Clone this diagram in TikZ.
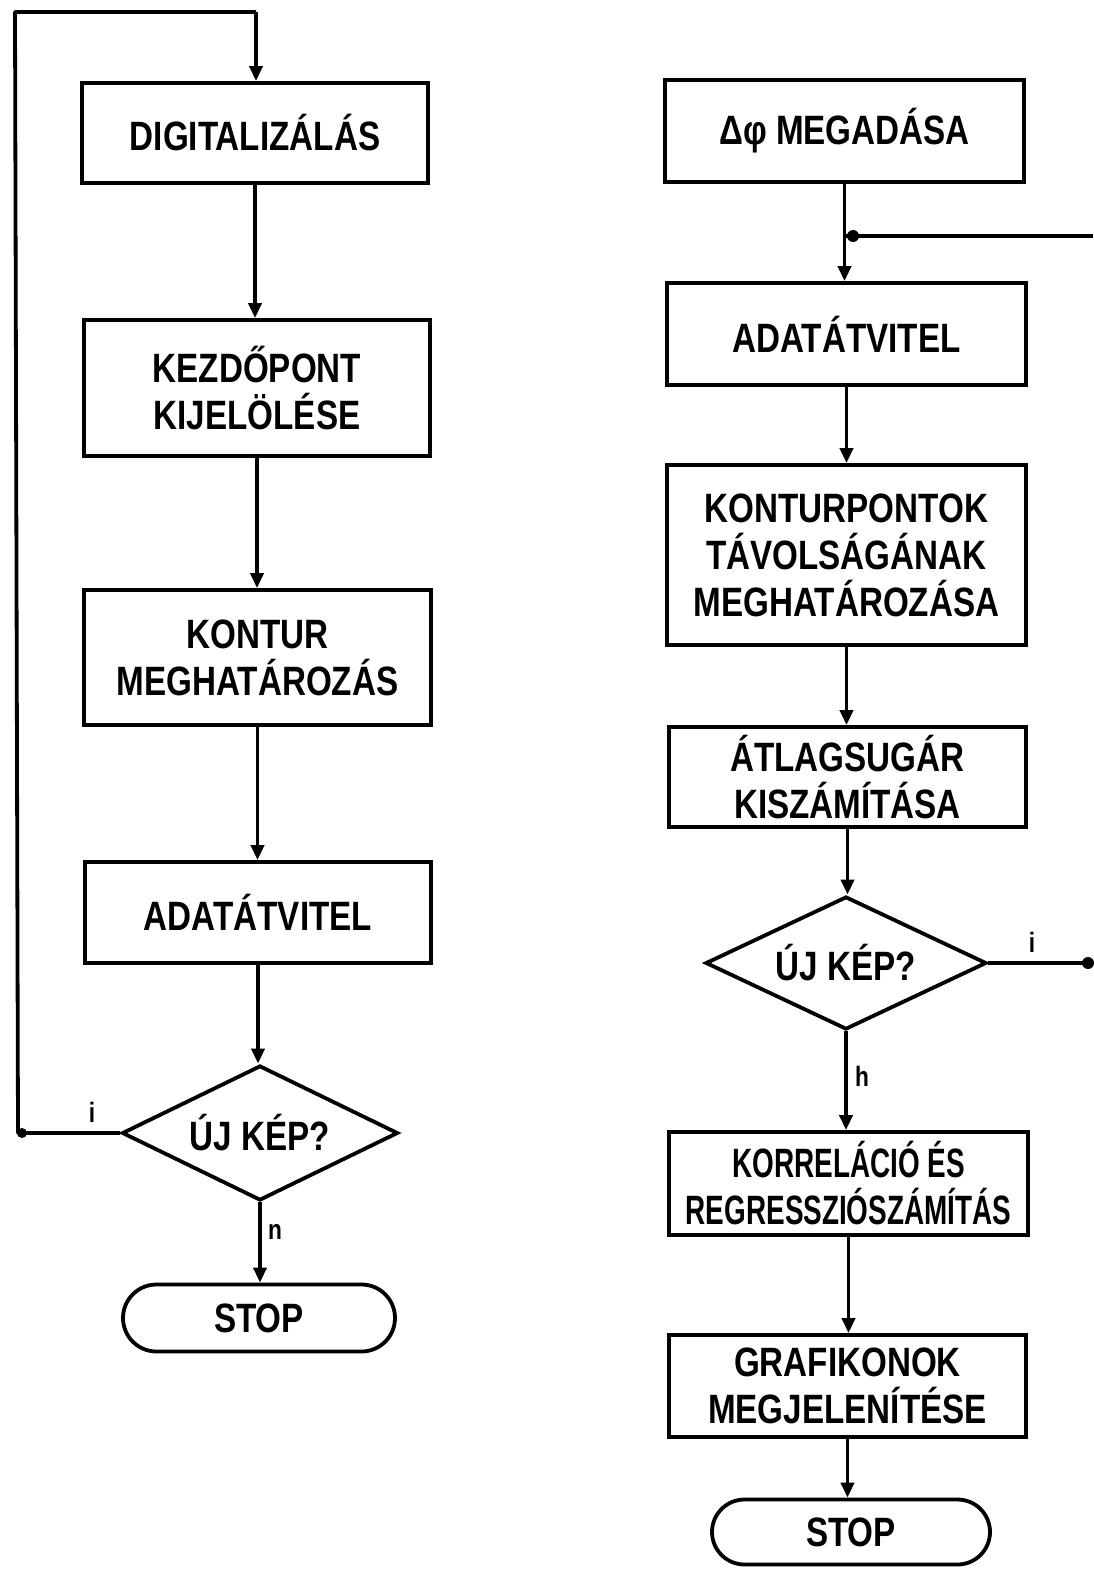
\documentclass[tikz,border=0pt]{standalone}
\usepackage{fontspec}
\setmainfont[FakeStretch=0.81]{Liberation Sans}
\newfontfamily\narrowfont[FakeStretch=0.68]{Liberation Sans}
\usetikzlibrary{shapes.geometric,shapes.misc,arrows.meta}
\begin{document}
\begin{tikzpicture}[x=1pt,y=-1pt,
  every node/.style={font=\fontsize{41}{47}\selectfont\bfseries, align=center},
  lw/.style={line width=3.8pt},
  box/.style={lw, draw, rectangle, inner sep=0pt},
  dec/.style={lw, draw, diamond, inner sep=0pt, aspect=2},
  term/.style={lw, draw, rounded rectangle, inner sep=0pt},
  conn/.style={lw, -{Triangle[length=15pt,width=13pt]}},
  lbl/.style={font=\fontsize{28}{30}\selectfont\bfseries, inner sep=0pt},
  dot/.style={circle, fill, inner sep=0pt, minimum size=12pt}]
\useasboundingbox (0,0) rectangle (1093,1573);
% left column
\node[box, minimum width=346pt, minimum height=100pt] (l1) at (255,133) {DIGITALIZÁLÁS};
\node[box, minimum width=346pt, minimum height=136pt] (l2) at (257,388) {KEZDŐPONT\\KIJELÖLÉSE};
\node[box, minimum width=347pt, minimum height=135pt] (l3) at (257.5,657.5) {KONTUR\\MEGHATÁROZÁS};
\node[box, minimum width=346pt, minimum height=101pt] (l4) at (258,912.5) {ADATÁTVITEL};
\node[dec, minimum width=276pt, minimum height=135pt] (l5) at (260,1133) {ÚJ KÉP?};
\node[term, minimum width=272pt, minimum height=67pt] (l6) at (259,1318) {STOP};
\coordinate (la) at (18,1133);
\coordinate (lb) at (15,12);
\coordinate (lc) at (256,12);
\draw[conn] (l1.south) -- (l1.south |- l2.north);
\draw[conn] (l2.south) -- (l2.south |- l3.north);
\draw[conn] (l3.south) -- (l3.south |- l4.north);
\draw[conn] (l4.south) -- (l4.south |- l5.north);
\draw[conn] (l5.south) -- (l5.south |- l6.north);
\draw[lw, line join=round] (l5.west) -- (la) -- (lb) -- (lc);
\draw[conn] (lc) -- (lc |- l1.north);
\node[dot, minimum size=10pt] (ldot) at (22,1133) {};
\node[lbl] (li) at (92,1112) {i};
\node[lbl] (ln) at (275,1232) {n};
% right column
\node[box, minimum width=359pt, minimum height=102pt] (r1) at (844.5,131) {Δφ MEGADÁSA};
\node[box, minimum width=359pt, minimum height=102pt] (r2) at (846.5,334) {ADATÁTVITEL};
\node[box, minimum width=359pt, minimum height=180pt] (r3) at (846.5,555) {KONTURPONTOK\\TÁVOLSÁGÁNAK\\MEGHATÁROZÁSA};
\node[box, minimum width=357pt, minimum height=100pt] (r4) at (847.5,777) {ÁTLAGSUGÁR\\KISZÁMÍTÁSA};
\node[dec, minimum width=281pt, minimum height=133pt] (r5) at (846,963) {ÚJ KÉP?};
\node[box, minimum width=359pt, minimum height=103pt, font=\fontsize{41}{47}\narrowfont\bfseries] (r6) at (848.5,1183.5) {KORRELÁCIÓ ÉS\\REGRESSZIÓSZÁMÍTÁS};
\node[box, minimum width=357pt, minimum height=102pt] (r7) at (847.5,1386) {GRAFIKONOK\\MEGJELENÍTÉSE};
\node[term, minimum width=278pt, minimum height=65pt] (r8) at (851,1532) {STOP};
\coordinate (rj) at (846,236);
\coordinate (rt) at (1093,236);
\coordinate (re) at (1088,963);
\draw[conn] (r1.south) -- (r1.south |- r2.north);
\draw[conn] (r2.south) -- (r2.south |- r3.north);
\draw[conn] (r3.south) -- (r3.south |- r4.north);
\draw[conn] (r4.south) -- (r4.south |- r5.north);
\draw[conn] (r5.south) -- (r5.south |- r6.north);
\draw[conn] (r6.south) -- (r6.south |- r7.north);
\draw[conn] (r7.south) -- (r7.south |- r8.north);
\draw[lw] (rt) -- (rj);
\draw[lw] (r5.east) -- (re);
\node[dot] (rjdot) at (853,236) {};
\node[dot] (redot) at (re) {};
\node[lbl] (ri) at (1032,942) {i};
\node[lbl] (rn) at (862,1076) {h};
\end{tikzpicture}
\end{document}
